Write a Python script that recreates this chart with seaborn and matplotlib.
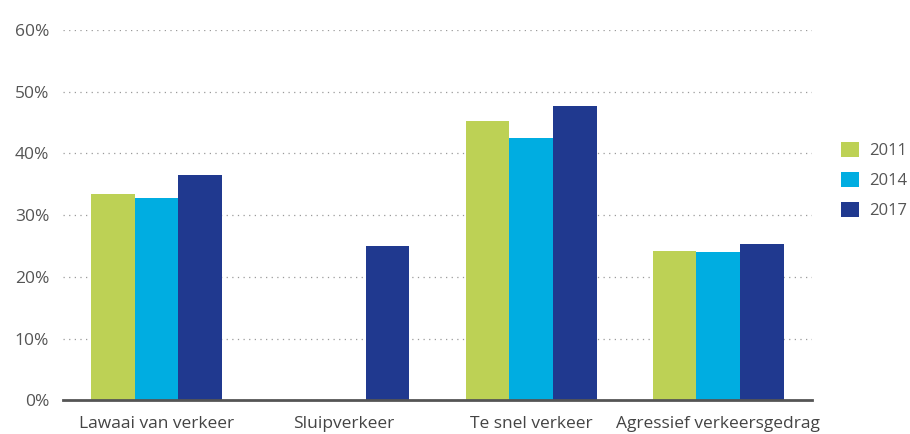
import numpy as np
import pandas as pd
import matplotlib
matplotlib.use("Agg")
import matplotlib.pyplot as plt
import seaborn as sns
from matplotlib.ticker import PercentFormatter

# data
categories = ["Lawaai van verkeer", "Sluipverkeer", "Te snel verkeer", "Agressief verkeersgedrag"]
years = ["2011", "2014", "2017"]
values_2011 = [33.5, np.nan, 45.3, 24.2]
values_2014 = [32.7, np.nan, 42.5, 24.1]
values_2017 = [36.5, 25.0, 47.7, 25.4]
colors = ["#BDD155", "#00ADE1", "#20398F"]

rows = []
for year, vals in zip(years, [values_2011, values_2014, values_2017]):
    for cat, v in zip(categories, vals):
        rows.append({"categorie": cat, "jaar": year, "waarde": v})
df = pd.DataFrame(rows)

sns.set_theme(style="white")
plt.rcParams["font.family"] = ["Open Sans", "DejaVu Sans"]

fig = plt.figure(figsize=(9.1, 4.34), dpi=100)
ax = fig.add_axes([0.0692, 0.0772, 0.823, 0.854])

sns.barplot(data=df, x="categorie", y="waarde", hue="jaar", order=categories,
            hue_order=years, palette=colors, width=0.7, saturation=1,
            linewidth=0, ax=ax, zorder=3)

ax.set_ylim(0, 60)
ax.set_yticks(range(0, 61, 10))
ax.yaxis.set_major_formatter(PercentFormatter(decimals=0))
ax.set_xlabel("")
ax.set_ylabel("")

ax.grid(axis="y", linestyle=(0, (1, 3.5)), color="#9a9a9a", linewidth=0.9, zorder=0)
ax.grid(axis="x", visible=False)
for s in ["top", "right", "left"]:
    ax.spines[s].set_visible(False)
ax.spines["bottom"].set_color("#555555")
ax.spines["bottom"].set_linewidth(2)
ax.spines["bottom"].set_zorder(4)

ax.tick_params(axis="y", length=0, pad=10, labelsize=12.5, labelcolor="#555555")
ax.tick_params(axis="x", length=0, pad=11.5, labelsize=12.5, labelcolor="#444444")

ax.legend(loc="upper left", bbox_to_anchor=(841 / 910, 1 - 142 / 434),
          bbox_transform=fig.transFigure, frameon=False, borderpad=0,
          borderaxespad=0, handlelength=1.05, handleheight=1.05,
          labelspacing=0.75, handletextpad=0.65, fontsize=12,
          labelcolor="#555555")

fig.savefig("out.png", dpi=100)
